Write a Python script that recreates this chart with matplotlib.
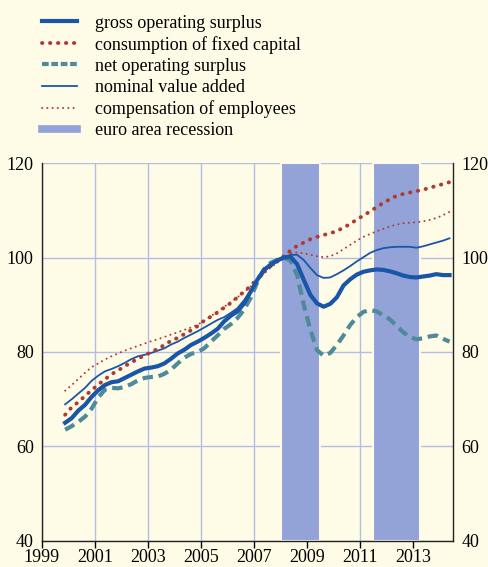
import matplotlib
matplotlib.use("Agg")
import matplotlib.pyplot as plt
from matplotlib.lines import Line2D
import numpy as np

# quarterly index, 2000 = first quarter
quarters = np.arange(59)
x_years = 1999.875 + 0.25 * quarters

gross_op_surplus = [
    65.0, 66.0, 67.6, 68.8, 70.5, 71.9, 73.0, 73.6, 73.8, 74.5,
    75.2, 75.9, 76.5, 76.7, 77.0, 77.6, 78.6, 79.7, 80.5, 81.5,
    82.2, 83.0, 83.9, 84.9, 86.5, 87.7, 88.6, 90.3, 92.8, 95.3,
    97.4, 98.5, 99.4, 100.0, 100.2, 98.6, 95.3, 92.1, 90.3, 89.6,
    90.2, 91.6, 94.1, 95.4, 96.4, 97.0, 97.3, 97.5, 97.4, 97.1,
    96.7, 96.2, 95.9, 95.8, 96.0, 96.2, 96.5, 96.3, 96.3]
fixed_capital = [
    66.7, 68.3, 69.4, 70.7, 71.9, 73.1, 74.2, 75.3, 76.1, 77.0,
    77.8, 78.6, 79.3, 80.0, 80.7, 81.5, 82.4, 83.0, 83.8, 84.6,
    85.5, 86.7, 87.5, 88.4, 89.4, 90.4, 91.6, 92.8, 94.0, 95.6,
    97.0, 98.2, 99.2, 100.3, 101.5, 102.5, 103.2, 103.9, 104.4, 104.8,
    105.2, 105.6, 106.4, 107.1, 108.1, 108.9, 109.8, 110.7, 111.6, 112.4,
    113.1, 113.5, 113.8, 114.1, 114.4, 114.8, 115.2, 115.6, 116.0]
net_op_surplus = [
    63.5, 64.3, 65.2, 66.3, 68.0, 70.4, 72.0, 72.4, 72.3, 72.6,
    73.2, 74.0, 74.5, 74.7, 74.8, 75.4, 76.3, 77.6, 78.8, 79.6,
    80.0, 80.8, 82.2, 83.5, 84.9, 85.9, 87.2, 89.0, 91.5, 94.8,
    97.5, 98.9, 99.5, 100.0, 99.4, 96.3, 90.0, 84.7, 80.4, 79.2,
    79.8, 81.5, 83.5, 85.7, 87.4, 88.5, 88.9, 88.6, 87.8, 86.9,
    85.6, 84.2, 83.2, 82.7, 82.9, 83.3, 83.5, 82.8, 82.2]
value_added = [
    68.9, 70.0, 71.2, 72.4, 73.9, 75.0, 75.9, 76.4, 77.0, 77.7,
    78.5, 79.1, 79.4, 79.8, 80.3, 80.8, 81.6, 82.2, 83.0, 83.7,
    84.4, 85.2, 86.0, 86.8, 87.4, 88.3, 89.3, 91.0, 93.0, 95.1,
    97.0, 98.6, 99.6, 100.1, 100.6, 100.6, 99.5, 97.8, 96.3, 95.7,
    95.8, 96.5, 97.3, 98.2, 99.2, 100.1, 101.0, 101.6, 102.0, 102.2,
    102.3, 102.3, 102.3, 102.1, 102.4, 102.8, 103.2, 103.6, 104.1]
compensation = [
    71.8, 73.0, 74.3, 75.6, 76.8, 77.6, 78.4, 79.1, 79.7, 80.3,
    80.8, 81.3, 81.8, 82.3, 82.7, 83.2, 83.7, 84.2, 84.7, 85.2,
    85.8, 86.6, 87.6, 88.6, 89.6, 90.6, 91.6, 92.7, 93.9, 95.3,
    96.6, 97.9, 98.9, 100.0, 100.9, 101.1, 100.9, 100.6, 100.3, 100.1,
    100.3, 100.9, 101.8, 102.7, 103.6, 104.4, 105.0, 105.6, 106.1, 106.6,
    107.0, 107.3, 107.4, 107.5, 107.7, 108.0, 108.4, 109.0, 109.7]

recessions = [(2008.0, 2009.5), (2011.5, 2013.25)]

labels = ["gross operating surplus", "consumption of fixed capital",
          "net operating surplus", "nominal value added",
          "compensation of employees", "euro area recession"]

bg = "#fefce6"
dark_blue = "#1a56a8"
red = "#b03a30"
teal = "#4e8a9a"
band = "#93a3d8"
grid_c = "#b4bde8"

plt.rcParams["font.family"] = ["Liberation Serif", "DejaVu Serif"]

fig = plt.figure(figsize=(4.88, 5.67), dpi=100, facecolor=bg)
ax = fig.add_axes([0.086, 0.0464, 0.842, 0.6656])
ax.set_facecolor(bg)

for start, end in recessions:
    ax.axvspan(start, end, facecolor=band, edgecolor=bg, linewidth=1.5, zorder=1)

big_dots = (0, (0.1, 1.95))
small_dots = (0, (0.1, 2.6))

ax.plot(x_years, value_added, color=dark_blue, lw=1.3, zorder=4)
ax.plot(x_years, compensation, color=red, lw=1.4,
        linestyle=small_dots, dash_capstyle="round", zorder=4)
ax.plot(x_years, fixed_capital, color=red, lw=2.8,
        linestyle=big_dots, dash_capstyle="round", zorder=4)
ax.plot(x_years, net_op_surplus, color=teal, lw=3.0,
        linestyle=(0, (2.5, 1.4)), zorder=3)
ax.plot(x_years, gross_op_surplus, color=dark_blue, lw=3.0, zorder=5)

ax.set_xlim(1999, 2014.5)
ax.set_ylim(40, 120)
ax.set_xticks(np.arange(1999, 2014, 2))
ax.set_yticks([40, 60, 80, 100, 120])
ax.grid(True, color=grid_c, linewidth=1.0, zorder=0)
ax.set_axisbelow(True)

ax.spines["top"].set_visible(False)
for s in ["left", "right", "bottom"]:
    ax.spines[s].set_color("#222222")
    ax.spines[s].set_linewidth(1.0)
ax.tick_params(axis="x", direction="out", length=5, width=1, labelsize=13, pad=1)
ax.tick_params(axis="y", length=0, labelsize=13, pad=6,
               labelleft=True, labelright=True)

handles = [
    Line2D([], [], color=dark_blue, lw=3.0),
    Line2D([], [], color=red, lw=2.8, linestyle=big_dots, dash_capstyle="round"),
    Line2D([], [], color=teal, lw=3.0, linestyle=(0, (1.6, 0.65))),
    Line2D([], [], color=dark_blue, lw=1.3),
    Line2D([], [], color=red, lw=1.4, linestyle=small_dots, dash_capstyle="round"),
    Line2D([], [], color=band, lw=5.5),
]
fig.legend(handles, labels, loc="upper left", bbox_to_anchor=(0.06, 0.9965),
           frameon=False, fontsize=13, handlelength=1.95, handletextpad=1.0,
           labelspacing=0.23, borderaxespad=0.3)

fig.savefig("out.png", dpi=100, facecolor=bg)
